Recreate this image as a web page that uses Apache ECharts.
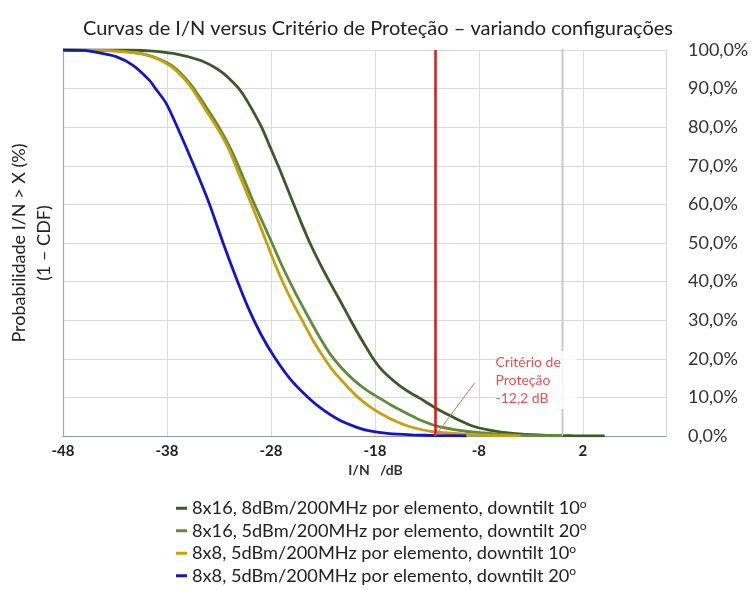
<!DOCTYPE html>
<html>
<head>
<meta charset="utf-8">
<script src="https://cdn.jsdelivr.net/npm/echarts@6/dist/echarts.min.js"></script>
<style>
  html, body { margin: 0; padding: 0; background: #fff; }
  #chart { width: 756px; height: 590px; }
</style>
</head>
<body>
<div id="chart"></div>
<script>
// Complementary CDF of I/N (dB) for four antenna configurations
const seriesNames = [
  '8x16, 8dBm/200MHz por elemento, downtilt 10°',
  '8x16, 5dBm/200MHz por elemento, downtilt 20°',
  '8x8, 5dBm/200MHz por elemento, downtilt 10°',
  '8x8, 5dBm/200MHz por elemento, downtilt 20°'
];
const seriesColors = ['#3a5a28', '#5f8c3c', '#c9a00c', '#1414cc'];

// 8x16, 8 dBm, downtilt 10°
const dg8x16t10Db  = [-48, -42, -39.7, -37.4, -34.9, -33.6, -32.6, -31.6, -30.8, -29.9, -28.9, -28.1, -27.3, -26.1, -25.2, -24.25, -23.2, -22.25, -21.4, -20.6, -19.8, -19.0, -18.3, -17.55, -16.6, -15.6, -14.6, -13.7, -12.26, -10.5, -8.6, -6.3, -4.1, -1.5, 1.0, 4.1];
const dg8x16t10Pct = [100, 100, 99.8, 99.1, 97.4, 95.8, 94.0, 91.5, 89.0, 85.0, 80.0, 75.0, 70.0, 62.0, 56.0, 50.0, 44.2, 39.4, 35.3, 31.3, 27.4, 23.7, 20.6, 17.8, 15.2, 13.0, 11.2, 9.8, 7.4, 4.9, 2.6, 1.2, 0.55, 0.18, 0.07, 0.02];

// 8x16, 5 dBm, downtilt 20°
const dg8x16t20Db  = [-48, -44, -42.2, -40.6, -39.0, -37.3, -35.7, -34.3, -33.0, -31.9, -30.9, -29.9, -28.9, -27.9, -27.0, -26.1, -25.2, -24.3, -23.3, -22.3, -21.2, -20.0, -18.8, -17.55, -16.5, -15.6, -14.6, -13.7, -12.1, -10.2, -7.9, -4.8, -2.0, 0.0];
const dg8x16t20Pct = [100, 99.9, 99.6, 99.1, 97.9, 95.5, 91.0, 85.5, 80.0, 74.5, 68.5, 62.0, 56.0, 50.0, 44.5, 39.5, 34.8, 30.3, 25.5, 21.2, 17.6, 14.4, 11.9, 9.8, 8.1, 6.8, 5.4, 4.2, 2.6, 1.6, 0.85, 0.3, 0.1, 0.05];

// 8x8, 5 dBm, downtilt 10°
const dg8x8t10Db  = [-48, -44, -42.2, -40.6, -39.0, -37.4, -35.8, -34.4, -33.1, -32.0, -31.1, -30.1, -29.2, -28.4, -27.6, -26.8, -25.9, -25.0, -24.0, -23.2, -22.2, -21.0, -19.7, -18.5, -17.5, -15.9, -14.35, -12.4, -9.5, -7.0, -4.0];
const dg8x8t10Pct = [100, 99.9, 99.6, 99.1, 97.8, 95.3, 90.8, 85.0, 79.5, 74.0, 68.0, 61.5, 55.5, 50.0, 44.5, 39.5, 34.5, 30.0, 25.0, 21.5, 17.5, 13.8, 10.2, 7.6, 5.9, 3.7, 2.2, 1.1, 0.5, 0.2, 0.05];

// 8x8, 5 dBm, downtilt 20°
const dg8x8t20Db  = [-48, -46, -45, -42.9, -41.3, -39.7, -39.1, -38.1, -37.0, -35.4, -33.9, -32.6, -31.35, -30.15, -28.95, -27.7, -26.1, -24.4, -23.2, -21.6, -19.8, -18.5, -16.6, -14.4, -12.0, -9.2];
const dg8x8t20Pct = [100, 99.9, 99.5, 98.3, 96.1, 92.2, 90.0, 86.3, 80.0, 70.0, 60.0, 50.0, 41.0, 33.0, 26.3, 20.6, 14.6, 9.9, 7.2, 4.4, 2.3, 1.3, 0.6, 0.3, 0.12, 0.03];

// Axis settings and protection criterion
const xMin = -48, xMax = 10, xStep = 10;
const yMin = 0, yMax = 100, yStep = 10;
const criterionDb = -12.2;
const criterionText = 'Critério de\nProteção\n-12,2 dB';
const criterionLabelAt = [-6.4, 14.5];
const pointerFrom = [-8.4, 13.8];
const extraGridDb = 0;

const curves = [
  [dg8x16t10Db, dg8x16t10Pct],
  [dg8x16t20Db, dg8x16t20Pct],
  [dg8x8t10Db, dg8x8t10Pct],
  [dg8x8t20Db, dg8x8t20Pct]
];

const FONT = 'Lato, "Open Sans", sans-serif';

const chart = echarts.init(document.getElementById('chart'), null, { renderer: 'canvas' });

const lineSeries = curves.map((c, i) => ({
  name: seriesNames[i],
  type: 'line',
  yAxisIndex: 0,
  showSymbol: false,
  smooth: 0.25,
  z: 3,
  color: seriesColors[i],
  lineStyle: { width: 2.8, color: seriesColors[i] },
  data: c[0].map((x, k) => [x, c[1][k]])
}));

chart.setOption({
  animation: false,
  backgroundColor: '#fff',
  textStyle: { fontFamily: FONT },
  title: {
    text: 'Curvas de I/N versus Critério de Proteção – variando configurações',
    left: 'center',
    top: 14,
    textStyle: { fontFamily: FONT, fontSize: 20, fontWeight: 'normal', color: '#222' }
  },
  grid: { left: 63, top: 50, width: 603, height: 386, outerBoundsMode: 'none', containLabel: false },
  legend: {
    orient: 'vertical',
    left: 176,
    top: 497,
    padding: 0,
    icon: 'rect',
    itemWidth: 11,
    itemHeight: 3,
    itemGap: 0,
    data: seriesNames,
    formatter: n => n.replace('°', '{sup|o}'),
    textStyle: {
      fontFamily: FONT, fontSize: 18.2, color: '#222', lineHeight: 22.5,
      rich: { sup: { fontFamily: FONT, fontSize: 12, color: '#222', padding: [0, 0, 9, 0] } }
    }
  },
  xAxis: {
    type: 'value',
    min: xMin, max: xMax, interval: xStep,
    name: 'I/N   /dB',
    nameLocation: 'middle',
    nameGap: 25,
    nameTextStyle: { fontFamily: FONT, fontSize: 14, fontWeight: 'bold', color: '#333', padding: [0, 0, 0, 22] },
    axisLine: { show: true, lineStyle: { color: '#8c96a8', width: 1.2 } },
    axisTick: { show: false },
    axisLabel: { showMaxLabel: false, fontFamily: FONT, fontSize: 15, fontWeight: 'bold', color: '#222', margin: 8 },
    splitLine: { show: true, lineStyle: { color: '#dadada', width: 1 } }
  },
  yAxis: [
    {
      type: 'value',
      position: 'right',
      min: yMin, max: yMax, interval: yStep,
      axisLine: { show: true, lineStyle: { color: '#7a869a', width: 1.4 } },
      axisTick: { show: false },
      axisLabel: {
        fontFamily: FONT, fontSize: 18, color: '#333', margin: 22,
        formatter: v => v.toFixed(1).replace('.', ',') + '%'
      },
      splitLine: { show: true, lineStyle: { color: '#dadada', width: 1 } }
    },
    {
      type: 'value',
      position: 'left',
      min: yMin, max: yMax, interval: yStep,
      name: 'Probabilidade I/N > X (%)\n(1 – CDF)',
      nameLocation: 'middle',
      nameRotate: 90,
      nameGap: 6,
      nameTextStyle: { fontFamily: FONT, fontSize: 18, color: '#222', lineHeight: 25, align: 'center' },
      axisLine: { show: true, lineStyle: { color: '#a0a8b8', width: 1.2 } },
      axisTick: { show: false },
      axisLabel: { show: false },
      splitLine: { show: false }
    }
  ],
  series: [
    {
      // secondary vertical grid line
      type: 'line',
      data: [],
      z: 1,
      silent: true,
      markLine: {
        silent: true,
        symbol: 'none',
        label: { show: false },
        lineStyle: { color: '#cbcbcb', width: 1.4, type: 'solid' },
        data: [{ xAxis: extraGridDb }]
      }
    },
    ...lineSeries,
    {
      // protection criterion marker and its note
      type: 'scatter',
      z: 10,
      silent: true,
      symbolSize: 0,
      data: [criterionLabelAt],
      label: {
        show: true,
        position: 'right',
        distance: 0,
        formatter: criterionText,
        fontFamily: FONT,
        fontSize: 14,
        lineHeight: 18,
        color: '#e0262c',
        backgroundColor: '#ffffff',
        padding: [2, 16, 2, 0]
      },
      markLine: {
        silent: true,
        symbol: 'none',
        label: { show: false },
        data: [
          { xAxis: criterionDb, lineStyle: { color: '#d21a1a', width: 2.5, type: 'solid' } },
          [
            { coord: pointerFrom, lineStyle: { color: '#e07070', width: 1, type: 'solid' } },
            { coord: [criterionDb, 0] }
          ]
        ]
      }
    }
  ]
});
</script>
</body>
</html>
